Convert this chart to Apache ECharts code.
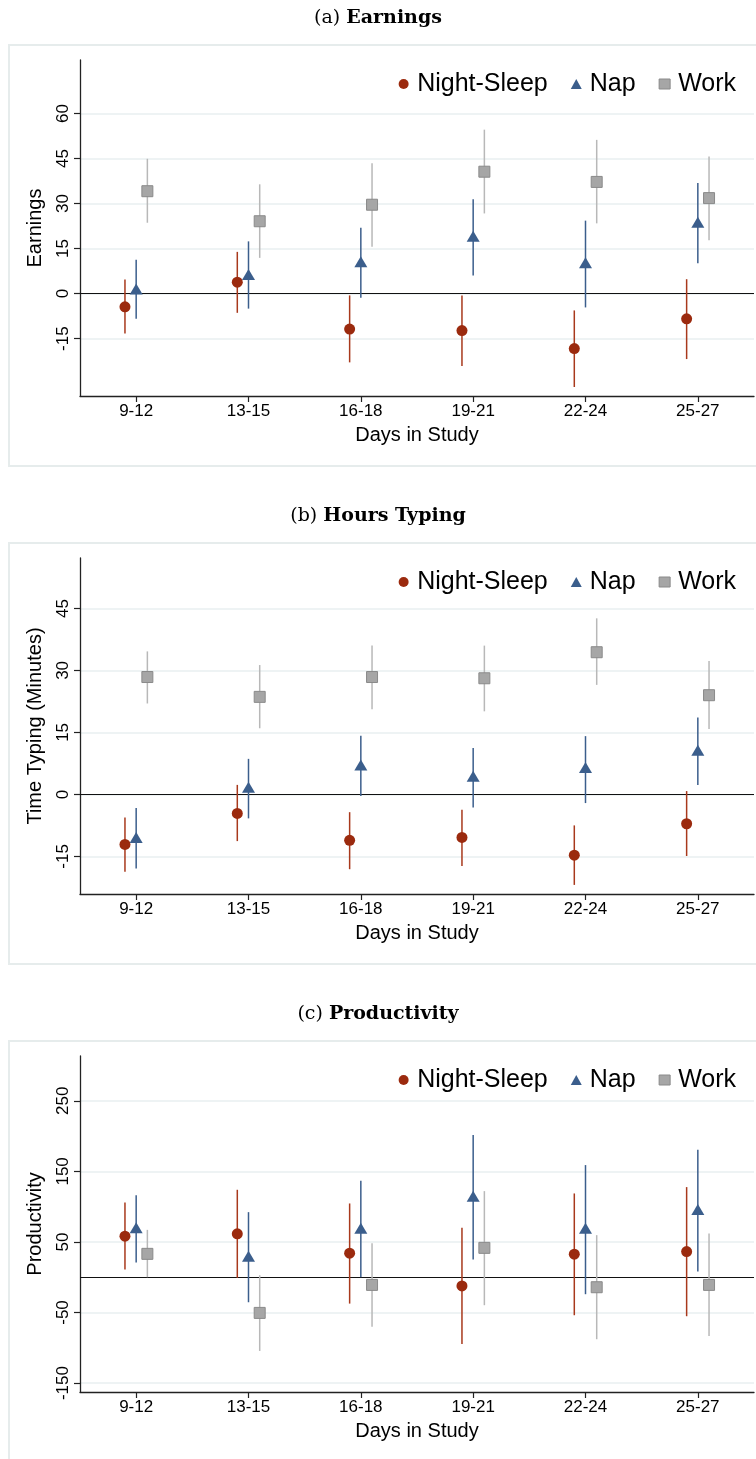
<!DOCTYPE html>
<html><head><meta charset="utf-8">
<script src="https://cdn.jsdelivr.net/npm/echarts@6/dist/echarts.min.js"></script>
<style>html,body{margin:0;padding:0;background:#fff}#c{width:756px;height:1459px}</style>
</head><body><div id="c"></div>
<script>
// ---------- DATA ----------
const categories = ['9-12', '13-15', '16-18', '19-21', '22-24', '25-27'];
const seriesNames = ['Night-Sleep', 'Nap', 'Work'];
const xAxisName = 'Days in Study';

// (a) Earnings
const earnTitle = 'Earnings';
const earnYName = 'Earnings';
const earnTicks = [-15, 0, 15, 30, 45, 60];
const earnNight   = [-4.4, 3.8, -11.8, -12.3, -18.3, -8.4];
const earnNightLo = [-13.3, -6.4, -22.9, -24.1, -31.1, -21.8];
const earnNightHi = [4.7, 13.9, -0.6, -0.6, -5.6, 4.8];
const earnNap     = [1.5, 6.4, 10.6, 19.1, 10.3, 23.8];
const earnNapLo   = [-8.4, -5.0, -1.4, 6.0, -4.6, 10.1];
const earnNapHi   = [11.3, 17.4, 21.9, 31.4, 24.3, 36.8];
const earnWork    = [34.1, 24.1, 29.6, 40.6, 37.2, 31.8];
const earnWorkLo  = [23.6, 11.9, 15.6, 26.7, 23.4, 17.8];
const earnWorkHi  = [44.9, 36.4, 43.4, 54.6, 51.2, 45.7];

// (b) Hours Typing
const typeTitle = 'Hours Typing';
const typeYName = 'Time Typing (Minutes)';
const typeTicks = [-15, 0, 15, 30, 45];
const typeNight   = [-12.1, -4.6, -11.1, -10.4, -14.7, -7.1];
const typeNightLo = [-18.7, -11.3, -18.1, -17.3, -21.9, -14.9];
const typeNightHi = [-5.6, 2.3, -4.3, -3.7, -7.5, 0.8];
const typeNap     = [-10.4, 1.7, 7.1, 4.4, 6.5, 10.7];
const typeNapLo   = [-17.9, -5.8, -0.4, -3.2, -2.1, 2.3];
const typeNapHi   = [-3.3, 8.6, 14.2, 11.2, 14.1, 18.6];
const typeWork    = [28.4, 23.6, 28.4, 28.1, 34.4, 24.0];
const typeWorkLo  = [22.0, 16.0, 20.6, 20.1, 26.5, 15.8];
const typeWorkHi  = [34.6, 31.3, 36.0, 36.0, 42.6, 32.3];

// (c) Productivity
const prodTitle = 'Productivity';
const prodYName = 'Productivity';
const prodTicks = [-150, -50, 50, 150, 250];
const prodNight   = [58.2, 61.5, 34.0, -12.3, 32.6, 36.4];
const prodNightLo = [10.9, -0.9, -37.4, -94.6, -53.9, -55.3];
const prodNightHi = [105.9, 123.9, 104.5, 70.0, 118.7, 127.7];
const prodNap     = [70.0, 29.8, 69.5, 114.9, 69.5, 96.0];
const prodNapLo   = [20.8, -35.5, 0.0, 25.1, -24.1, 8.0];
const prodNapHi   = [116.3, 92.2, 136.6, 201.4, 158.9, 180.6];
const prodWork    = [33.1, -50.6, -10.9, 41.6, -14.2, -10.9];
const prodWorkLo  = [0.0, -104.5, -70.4, -39.7, -87.9, -83.2];
const prodWorkHi  = [67.1, 2.8, 48.2, 122.0, 59.6, 61.9];

// ---------- LAYOUT / STYLE ----------
const panels = [
  {letter: '(a)', title: earnTitle, yName: earnYName, ticks: earnTicks, yMin: -34.1, yMax: 77.8,
   vals: [earnNight, earnNap, earnWork], lo: [earnNightLo, earnNapLo, earnWorkLo], hi: [earnNightHi, earnNapHi, earnWorkHi]},
  {letter: '(b)', title: typeTitle, yName: typeYName, ticks: typeTicks, yMin: -24.1, yMax: 57.2,
   vals: [typeNight, typeNap, typeWork], lo: [typeNightLo, typeNapLo, typeWorkLo], hi: [typeNightHi, typeNapHi, typeWorkHi]},
  {letter: '(c)', title: prodTitle, yName: prodYName, ticks: prodTicks, yMin: -162.7, yMax: 313.5,
   vals: [prodNight, prodNap, prodWork], lo: [prodNightLo, prodNapLo, prodWorkLo], hi: [prodNightHi, prodNapHi, prodWorkHi]}
];
const PANEL_STEP = 498;
const GRID_TOP0 = 60;
const GRID_H = 336;
const SANS = '"Liberation Sans", Arial, sans-serif';
const SERIF = '"DejaVu Serif", "Liberation Serif", serif';
const colors = ['#9b2a0e', '#3b5e8c', '#a6a6a6'];
const barColors = ['#a8391c', '#3b5e8c', '#b8b8b8'];
const symbols = ['circle', 'triangle', 'rect'];
const symSizes = [11, [13, 11], 11];
const offsets = [-11.2, 0, 11.2];
const axisColor = '#222';
const gridColor = '#e8eff0';

function errRender(off, color) {
  return function (params, api) {
    const c = api.value(0);
    const p1 = api.coord([c, api.value(1)]);
    const p2 = api.coord([c, api.value(2)]);
    const x = p1[0] + off;
    return {type: 'line', shape: {x1: x, y1: p1[1], x2: x, y2: p2[1]},
      style: {stroke: color, lineWidth: 1.5}};
  };
}

const option = {
  backgroundColor: '#fff',
  animation: false,
  title: [], legend: [], grid: [], xAxis: [], yAxis: [], series: [],
  graphic: []
};

panels.forEach((p, i) => {
  const top = GRID_TOP0 + i * PANEL_STEP;
  option.graphic.push({type: 'rect', silent: true, z: -10,
    shape: {x: 9, y: top - 15, width: 770, height: 421},
    style: {fill: 'none', stroke: '#e6ecec', lineWidth: 2}});
  option.title.push({
    text: '{r|' + p.letter + ' }{b|' + p.title + '}',
    left: 'center', top: top - 51, padding: 0,
    textStyle: {fontWeight: 'normal', rich: {
      r: {fontFamily: SERIF, fontSize: 19, fontWeight: 'normal', color: '#000'},
      b: {fontFamily: SERIF, fontSize: 19, fontWeight: 'bold', color: '#000'}
    }}
  });
  option.legend.push({
    top: top + 11.5, right: 20, padding: 0, itemGap: 23, itemWidth: 11, itemHeight: 10,
    selectedMode: false,
    data: seriesNames.map((n, k) => ({name: n, icon: symbols[k],
      itemStyle: k === 2 ? {color: colors[2], borderColor: '#8a8a8a', borderWidth: 1} : {color: colors[k]}})),
    textStyle: {fontFamily: SANS, fontSize: 25, color: '#000', padding: [0, 0, 0, 3]}
  });
  option.grid.push({left: 80, right: 2, top: top, height: GRID_H, outerBoundsMode: 'none', containLabel: false});
  option.xAxis.push({
    type: 'category', gridIndex: i, data: categories,
    name: xAxisName, nameLocation: 'middle', nameGap: 29,
    nameTextStyle: {fontFamily: SANS, fontSize: 20, color: '#000'},
    axisLine: {show: true, onZero: false, lineStyle: {color: axisColor, width: 1.3}},
    axisTick: {show: true, alignWithLabel: true, length: 6, lineStyle: {color: axisColor, width: 1.2}},
    axisLabel: {fontFamily: SANS, fontSize: 17, color: '#000', margin: 7},
    splitLine: {show: false}
  });
  option.yAxis.push({
    type: 'value', gridIndex: i, min: p.yMin, max: p.yMax,
    name: p.yName, nameLocation: 'middle', nameGap: 35, nameRotate: 90,
    nameTextStyle: {fontFamily: SANS, fontSize: 20, color: '#000'},
    axisLine: {show: true, onZero: false, lineStyle: {color: axisColor, width: 1.3}},
    axisTick: {show: true, length: 6, customValues: p.ticks, lineStyle: {color: axisColor, width: 1.2}},
    axisLabel: {customValues: p.ticks, rotate: 90, margin: 8, fontFamily: SANS, fontSize: 17, color: '#000'},
    splitLine: {show: true, lineStyle: {color: gridColor, width: 1.5}}
  });
  seriesNames.forEach((n, k) => {
    option.series.push({
      type: 'custom', name: n + ' CI', xAxisIndex: i, yAxisIndex: i, z: 3, silent: true,
      renderItem: errRender(offsets[k], barColors[k]),
      data: categories.map((c, j) => [j, p.lo[k][j], p.hi[k][j]])
    });
  });
  seriesNames.forEach((n, k) => {
    const s = {
      type: 'scatter', name: n, xAxisIndex: i, yAxisIndex: i, z: 5,
      symbol: symbols[k], symbolSize: symSizes[k], symbolOffset: [offsets[k], 0],
      itemStyle: k === 2 ? {color: colors[2], borderColor: '#8a8a8a', borderWidth: 1, opacity: 1} : {color: colors[k], opacity: 1},
      data: categories.map((c, j) => [j, p.vals[k][j]])
    };
    if (k === 0) {
      s.markLine = {silent: true, symbol: ['none', 'none'], label: {show: false}, z: 2,
        lineStyle: {color: '#111', width: 1.2, type: 'solid'}, data: [{yAxis: 0}]};
    }
    option.series.push(s);
  });
});

const chart = echarts.init(document.getElementById('c'));
chart.setOption(option);
</script>
</body></html>
